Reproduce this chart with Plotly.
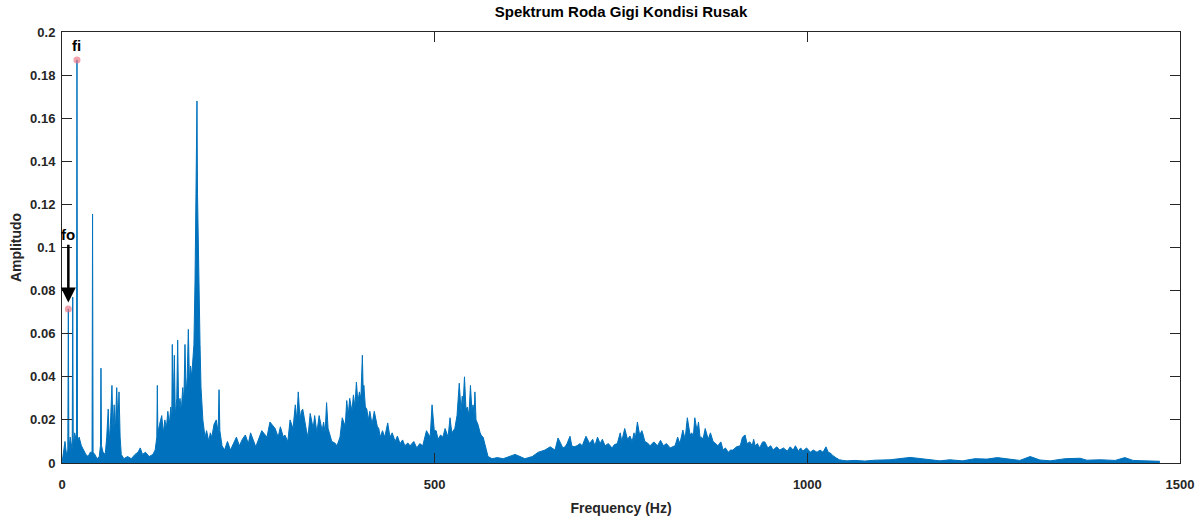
import plotly.graph_objects as go

# ---- spectrum values (frequency in Hz, amplitude) ----
freq_hz = [
    0, 1.3, 4, 6, 7.8, 8.5, 9.2, 11, 13.7, 14.4, 15.1, 17, 19.4, 20.1, 20.8, 23, 26, 29, 32, 35, 38,
    40.3, 41, 41.7, 44, 47, 50, 51.6, 52.3, 53, 55, 58, 60, 62, 63.5, 65, 67, 68.5, 70, 71.5, 73.4,
    75, 76.5, 78, 79.5, 83, 88, 93, 98, 102, 105, 108, 112, 117, 122, 125, 127.2, 127.9, 128.6,
    131, 133.8, 136, 138, 140, 142, 144, 146, 147.3, 148, 148.8, 150.7, 152, 154, 155.2, 156.5,
    158.3, 160, 162, 163.5, 165, 166.5, 168, 169.5, 171, 172.5, 174, 175.5, 177, 178.5, 179.7,
    180.5, 181.1, 181.8, 183, 184, 185.2, 186.5, 187.5, 189, 191.9, 194, 197, 199, 201, 204, 207,
    209.5, 210.7, 211.8, 214.7, 218, 222, 226, 230, 234, 238, 242, 246, 250, 253, 256, 260, 268,
    275, 279, 283, 286, 290, 293, 297, 299, 303, 306, 310, 313, 315, 317, 319.4, 321, 323, 326,
    328, 330, 333, 337, 339, 342, 345, 349, 351, 353, 355, 357, 360, 362, 366, 369, 373, 376, 380,
    382, 384, 386, 389, 391, 393, 395, 397, 399, 401, 403, 404.2, 405, 407, 409, 411, 413, 416,
    419, 423, 425, 427, 430, 433, 437, 440, 443, 447, 450, 453.5, 457, 460, 464, 467, 472, 476,
    480, 484, 489, 494, 496.5, 499.5, 502, 504.5, 508, 511, 514, 518, 520.6, 523, 527, 530, 533,
    535.4, 537, 538, 540, 542, 544, 546, 548, 550, 551.5, 553, 554, 555.5, 558, 561, 563, 565, 569,
    571.6, 577, 584, 592, 601, 608, 614.5, 621, 631, 639, 648, 655, 661.5, 665.5, 672, 675, 677.6,
    681.6, 684, 687, 691, 695, 698, 703, 708, 712, 715, 718.5, 722, 725, 728.6, 733, 738, 741, 745,
    749, 751, 755, 758.7, 762, 765, 767.5, 769, 772, 775, 778, 779, 782, 785.6, 789, 794, 799, 803,
    807, 811, 816, 819, 822.5, 826, 829, 833, 836, 839, 842.7, 845, 847, 849, 852, 854, 856, 858,
    860, 863, 867, 870, 873.5, 877, 880, 884, 887, 890, 894, 897, 900, 905, 910, 913, 916.5, 919,
    923, 926, 928, 930, 933, 936, 940, 943, 947, 951, 954, 959, 963, 968, 973, 977, 981, 984, 988,
    991, 994, 999, 1004, 1008, 1013, 1017, 1021, 1025, 1028, 1031, 1034, 1039, 1043, 1048, 1053,
    1064, 1077, 1091, 1111, 1138, 1165, 1178, 1191, 1208, 1225, 1241, 1255, 1268, 1285, 1299,
    1312, 1326, 1346, 1366, 1375, 1393, 1413, 1426, 1437, 1453, 1473, 1500,
]
amplitude = [
    0.0, 0.004, 0.010, 0.004, 0.006, 0.0715, 0.006, 0.012, 0.006, 0.077, 0.008, 0.014, 0.010, 0.187,
    0.010, 0.012, 0.008, 0.006, 0.004, 0.003, 0.005,
    0.005, 0.1155, 0.005, 0.004, 0.002, 0.003, 0.008, 0.044, 0.008, 0.005, 0.004, 0.012, 0.025,
    0.010, 0.018, 0.036, 0.015, 0.027, 0.014, 0.035,
    0.018, 0.033, 0.012, 0.004, 0.002, 0.003, 0.002, 0.004, 0.005, 0.007, 0.004, 0.005, 0.003,
    0.004, 0.006, 0.012, 0.036, 0.014,
    0.018, 0.022, 0.014, 0.020, 0.016, 0.024, 0.018, 0.026, 0.020, 0.055, 0.022, 0.050, 0.022,
    0.030, 0.057, 0.025,
    0.030, 0.024, 0.035, 0.028, 0.055, 0.032, 0.040, 0.062, 0.038, 0.045, 0.040, 0.050, 0.055,
    0.085, 0.127,
    0.137, 0.168, 0.125, 0.095, 0.080, 0.055, 0.035, 0.025, 0.020, 0.012, 0.015, 0.010, 0.014,
    0.012, 0.018, 0.020,
    0.014, 0.034, 0.015, 0.008, 0.006, 0.010, 0.006, 0.009, 0.012, 0.008, 0.011, 0.013, 0.009,
    0.014, 0.011, 0.0075,
    0.015, 0.012, 0.019, 0.017, 0.016, 0.012, 0.0168, 0.012, 0.013, 0.010, 0.020, 0.016, 0.027,
    0.020, 0.033, 0.020, 0.024, 0.025,
    0.018, 0.015, 0.012, 0.023, 0.016, 0.022, 0.014, 0.022, 0.015, 0.019, 0.014, 0.028, 0.016,
    0.013, 0.010, 0.0093, 0.008, 0.012, 0.021,
    0.017, 0.029, 0.022, 0.030, 0.024, 0.0316, 0.026, 0.0376, 0.028, 0.033, 0.030, 0.050, 0.032,
    0.036, 0.026, 0.025, 0.020, 0.024,
    0.018, 0.024, 0.017, 0.016, 0.012, 0.015, 0.012, 0.0186, 0.012, 0.014, 0.010, 0.0125, 0.009,
    0.0107, 0.008, 0.0093, 0.008, 0.010,
    0.007, 0.009, 0.008, 0.015, 0.012, 0.027, 0.015, 0.015, 0.011, 0.013, 0.012, 0.016, 0.012,
    0.021, 0.014, 0.016, 0.022,
    0.037, 0.024, 0.031, 0.026, 0.040, 0.025, 0.026, 0.022, 0.036, 0.024, 0.027, 0.022, 0.033,
    0.020, 0.018, 0.014, 0.0125, 0.012,
    0.006, 0.003, 0.002, 0.0025, 0.002, 0.003, 0.004, 0.003, 0.002, 0.003, 0.005, 0.006, 0.0075,
    0.006, 0.0116, 0.007, 0.0075,
    0.009, 0.0124, 0.008, 0.0075, 0.008, 0.009, 0.008, 0.0124, 0.009, 0.011, 0.008, 0.012, 0.009,
    0.011, 0.008, 0.009, 0.007, 0.0085,
    0.009, 0.014, 0.010, 0.016, 0.011, 0.0125, 0.010, 0.014, 0.011, 0.019, 0.013, 0.015, 0.014,
    0.010, 0.0093, 0.008, 0.0098, 0.008,
    0.0105, 0.008, 0.009, 0.007, 0.0075, 0.008, 0.012, 0.009, 0.0153, 0.011, 0.021, 0.013, 0.014,
    0.012, 0.021, 0.015, 0.019, 0.012,
    0.012, 0.011, 0.016, 0.011, 0.014, 0.010, 0.009, 0.008, 0.0098, 0.006, 0.007, 0.005, 0.006,
    0.006, 0.0075, 0.008, 0.012, 0.013,
    0.009, 0.0098, 0.008, 0.011, 0.008, 0.009, 0.007, 0.0098, 0.0098, 0.007, 0.008, 0.006, 0.0075,
    0.006, 0.007, 0.0055, 0.0075, 0.006, 0.008,
    0.0055, 0.007, 0.0055, 0.007, 0.005, 0.006, 0.005, 0.006, 0.005, 0.0075, 0.005, 0.0046, 0.0035,
    0.0023, 0.0015, 0.0012,
    0.0010, 0.0012, 0.0009, 0.0013, 0.0015, 0.0026, 0.0015, 0.0010, 0.0015, 0.0010, 0.0020, 0.0018,
    0.0025, 0.0018, 0.0012,
    0.0030, 0.0014, 0.0010, 0.0020, 0.0022, 0.0013, 0.0015, 0.0012, 0.0025, 0.0012, 0.0010, 0.0008,
]

# marked peaks
peak_freq = [8.5, 20.1]
peak_amp = [0.0715, 0.187]
peak_labels = ["fo", "fi"]

# axis ticks
x_tick_vals = [0, 500, 1000, 1500]
y_tick_vals = [0, 0.02, 0.04, 0.06, 0.08, 0.1, 0.12, 0.14, 0.16, 0.18, 0.2]
y_tick_text = ["0", "0.02", "0.04", "0.06", "0.08", "0.1", "0.12", "0.14", "0.16", "0.18", "0.2"]

BLUE = "#0072BD"
TXT = "#262626"
FONT = "Liberation Sans"

fig = go.Figure()
fig.add_trace(go.Scatter(
    x=freq_hz, y=amplitude, mode="lines",
    line=dict(color=BLUE, width=1),
    fill="tozeroy", fillcolor=BLUE,
    hoverinfo="x+y", showlegend=False,
))
fig.add_trace(go.Scatter(
    x=peak_freq, y=peak_amp, mode="markers",
    marker=dict(color="rgba(235,110,125,0.65)", size=7),
    showlegend=False,
))

# labels for peaks
fig.add_annotation(x=peak_freq[1], y=peak_amp[1], text="<b>" + peak_labels[1] + "</b>",
                   showarrow=False, yshift=15, xshift=0,
                   font=dict(family=FONT, size=15, color="black"))
fig.add_annotation(x=peak_freq[0], y=0.1, text="<b>" + peak_labels[0] + "</b>",
                   showarrow=False, yshift=3, xshift=0, yanchor="bottom",
                   font=dict(family=FONT, size=15, color="black"))
fig.add_annotation(x=8.5, y=0.0745, ax=8.5, ay=0.102, axref="x", ayref="y",
                   xref="x", yref="y", text="", showarrow=True,
                   arrowhead=2, arrowsize=1.2, arrowwidth=2.5, arrowcolor="black")

fig.update_layout(
    width=1202, height=519,
    margin=dict(l=62, r=22, t=32, b=56),
    paper_bgcolor="white", plot_bgcolor="white",
    title=dict(text="<b>Spektrum Roda Gigi Kondisi Rusak</b>", xref="paper", x=0.5,
               xanchor="center", y=1 - 12 / 519, yanchor="middle",
               font=dict(family=FONT, size=15, color="black")),
    font=dict(family=FONT, color=TXT),
)
fig.update_xaxes(
    range=[0, 1500], tickvals=x_tick_vals, ticks="inside", ticklen=10, tickcolor=TXT,
    showline=True, linecolor=TXT, linewidth=1, mirror="ticks", showgrid=False, zeroline=False,
    automargin=False, ticklabelstandoff=9,
    tickfont=dict(family=FONT, size=13, color=TXT, weight="bold"),
    title=dict(text="Frequency (Hz)", font=dict(family=FONT, size=14, color=TXT, weight="bold"),
               standoff=12),
)
fig.update_yaxes(
    range=[0, 0.2], tickvals=y_tick_vals, ticktext=y_tick_text, ticks="inside", ticklen=10,
    tickcolor=TXT, showline=True, linecolor=TXT, linewidth=1, mirror="ticks", showgrid=False,
    zeroline=False, automargin=False, ticklabelstandoff=3,
    tickfont=dict(family=FONT, size=13, color=TXT, weight="bold"),
    title=dict(text="Amplitudo", font=dict(family=FONT, size=14, color=TXT, weight="bold"),
               standoff=5),
)

# remove the browser's default 8 px page margin so the figure fills the window exactly
fig.write_html(
    "out.html",
    config={"displayModeBar": False},
    post_script="document.body.style.margin='0';document.body.style.overflow='hidden';",
)
